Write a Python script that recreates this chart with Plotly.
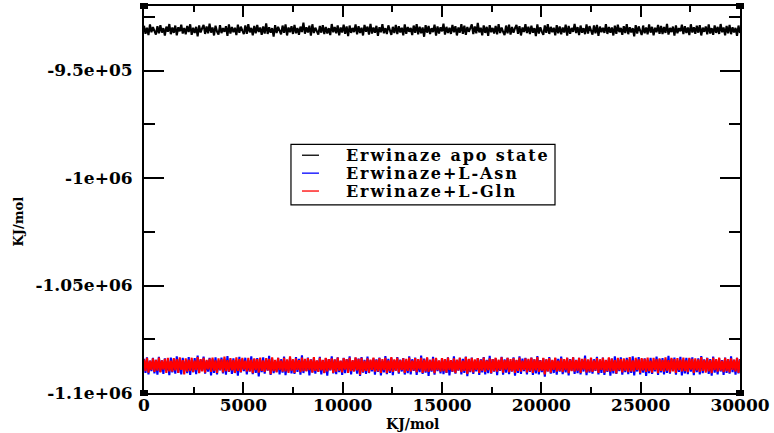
import plotly.graph_objects as go

time_ps = list(range(0, 30001, 75))

apo_state = [
-929200, -932900, -930100, -933500, -928600, -932200, -929800, -931900, -933300, -929400,
-932700, -928900, -932400, -930300, -933800, -929600, -932000, -928400, -933100, -930000,
-932500, -929100, -933600, -929900, -931800, -928700, -932800, -930200, -933200, -929300,
-932100, -928500, -933400, -930100, -932600, -929700, -934100, -929000, -932300, -930400,
-928800, -933000, -929500, -932700, -928200, -932400, -930000, -933700, -929200, -931900,
-933300, -928900, -932600, -930300, -932000, -929400, -933900, -928600, -932800, -929800,
-932200, -930100, -933500, -928700, -932500, -929600, -931800, -933100, -929000, -932900,
-928400, -932300, -930200, -933600, -929300, -932700, -928800, -932100, -930000, -933400,
-929500, -932800, -928100, -933000, -929900, -932400, -930300, -934200, -928900, -932600,
-929700, -931900, -933200, -929100, -932500, -928600, -933700, -930000, -932200, -929400,
-933000, -928800, -932700, -930200, -933400, -929600, -932100, -927700, -932900, -929900,
-932300, -929200, -933800, -928500, -932600, -930100, -931800, -933300, -929300, -932400,
-928900, -933100, -929700, -932800, -930300, -933500, -928400, -932200, -929800, -932700,
-929000, -933600, -930000, -932300, -928700, -932900, -929500, -934000, -929100, -932500,
-930200, -932100, -928600, -933200, -929400, -932600, -930100, -933700, -928800, -932000,
-929600, -933300, -928300, -932800, -930000, -932400, -929200, -933900, -929900, -932200,
-928500, -932700, -930300, -933000, -929000, -931900, -933400, -929700, -932600, -928800,
-933100, -929400, -932300, -930100, -933600, -928600, -932900, -929800, -932000, -930200,
-933500, -929100, -932500, -928400, -933200, -929600, -932700, -930000, -934300, -928900,
-932400, -929300, -933000, -930300, -932100, -928700, -933800, -929500, -932800, -929900,
-931800, -928200, -933300, -929700, -932600, -930100, -933000, -928800, -932200, -929400,
-933700, -930000, -932400, -928500, -932900, -929200, -933400, -929800, -932000, -930300,
-928600, -933100, -929500, -932700, -927900, -932300, -930100, -933600, -929000, -932500,
-929700, -933900, -928900, -932200, -930200, -932800, -929300, -933200, -928400, -932600,
-930000, -932000, -933500, -929100, -932700, -928700, -933300, -929800, -932400, -930300,
-928800, -932900, -929400, -933700, -930000, -932100, -928500, -932600, -929600, -933100,
-929200, -932400, -930300, -934000, -928600, -932800, -929900, -931900, -933400, -929000,
-932500, -928400, -933000, -929700, -932200, -930100, -933600, -928900, -932700, -929500,
-933200, -930000, -932300, -928700, -933800, -929300, -932900, -930200, -932000, -928300,
-932600, -929800, -933500, -929100, -932400, -930300, -933100, -928600, -932800, -929400,
-931900, -933300, -929000, -932700, -928800, -933900, -929600, -932200, -930100, -932500,
-928500, -933000, -929800, -932400, -930000, -933700, -929200, -932900, -928700, -932100,
-930200, -933400, -929400, -932600, -928400, -933100, -929900, -932300, -930300, -934100,
-928900, -932800, -929500, -932000, -933500, -929100, -932700, -930000, -933200, -928600,
-932400, -929700, -933600, -930100, -932200, -928800, -932900, -929300, -933000, -929800,
-932500, -928300, -933300, -930200, -932100, -929600, -933800, -929000, -932700, -930300,
-931800, -928700, -933100, -929400, -932600, -930000, -933500, -928500, -932300, -929900,
-932900, -929200, -932400, -928900, -933700, -930100, -932000, -929500, -933200, -928600,
-932800, -930300, -933400, -929000, -932500, -929700, -933000, -928400, -932200, -930000,
-933600, -929300, -932700, -928800, -933100, -929900, -932300, -930200, -933900, -929100,
-932600]

asn_complex = [
-1084100, -1090700, -1083400, -1091300, -1085000, -1089800, -1083700, -1090900, -1084600, -1091500,
-1083200, -1090200, -1084800, -1091100, -1083900, -1089600, -1085100, -1091700, -1083500, -1090400,
-1084400, -1091000, -1082900, -1090600, -1084200, -1091400, -1083600, -1089900, -1085200, -1090800,
-1083300, -1091600, -1084700, -1090300, -1083800, -1091200, -1082600, -1090500, -1084500, -1089700,
-1083100, -1091000, -1085000, -1090100, -1083700, -1091800, -1084300, -1090600, -1083400, -1091300,
-1084900, -1089500, -1083500, -1090900, -1084100, -1091500, -1082800, -1090200, -1084600, -1091100,
-1083900, -1090700, -1085100, -1091900, -1083200, -1090400, -1084400, -1089800, -1083600, -1091400,
-1084800, -1090000, -1083000, -1091200, -1084200, -1090600, -1083800, -1092300, -1084700, -1090300,
-1083400, -1091000, -1084500, -1089600, -1082700, -1091600, -1084000, -1090800, -1085200, -1090100,
-1083600, -1091300, -1084300, -1090500, -1083100, -1091700, -1084900, -1089900, -1083700, -1090900,
-1084600, -1091100, -1083300, -1090200, -1084100, -1091500, -1082500, -1090700, -1084800, -1089700,
-1083500, -1091800, -1084400, -1090400, -1083900, -1091000, -1085000, -1090000, -1083200, -1091300,
-1084700, -1090600, -1083800, -1091900, -1084200, -1089500, -1083000, -1090900, -1084500, -1091200,
-1083400, -1090300, -1085100, -1091600, -1083700, -1090800, -1084300, -1090100, -1082900, -1091400,
-1084900, -1089800, -1083600, -1091000, -1084000, -1092100, -1083300, -1090500, -1084600, -1091100,
-1083100, -1090700, -1084800, -1089900, -1083900, -1091500, -1084400, -1090200, -1083500, -1091800,
-1085000, -1090400, -1082800, -1091200, -1084100, -1090600, -1083700, -1091700, -1084700, -1089600,
-1083300, -1091000, -1084500, -1090000, -1083800, -1091400, -1085200, -1090800, -1083000, -1091300,
-1084300, -1089700, -1083500, -1091600, -1084900, -1090300, -1082600, -1091100, -1084000, -1090500,
-1083600, -1092000, -1084600, -1090100, -1083200, -1091500, -1084200, -1089800, -1085100, -1090900,
-1083900, -1091200, -1084400, -1090600, -1083400, -1091800, -1084800, -1090200, -1082900, -1091000,
-1084700, -1089600, -1083700, -1091400, -1084100, -1090700, -1083100, -1092200, -1084500, -1090300,
-1083500, -1091100, -1085000, -1089900, -1083800, -1091600, -1084300, -1090400, -1083300, -1091300,
-1084600, -1090800, -1082700, -1091000, -1084200, -1090100, -1083900, -1091700, -1084900, -1089700,
-1083200, -1091500, -1084400, -1090500, -1083600, -1091200, -1085100, -1090000, -1083400, -1091900,
-1084800, -1090600, -1083000, -1091100, -1084000, -1089800, -1083700, -1091400, -1084600, -1090200,
-1083500, -1091600, -1084300, -1090900, -1082800, -1091300, -1084700, -1090300, -1083900, -1092400,
-1084500, -1089900, -1083300, -1091000, -1085000, -1090700, -1083800, -1091500, -1084100, -1090100,
-1083100, -1091200, -1084900, -1090400, -1083600, -1091800, -1084200, -1089600, -1083400, -1091100,
-1084600, -1090800, -1083700, -1091400, -1084400, -1090000, -1082600, -1091700, -1084800, -1090500,
-1083900, -1091000, -1084300, -1089700, -1083200, -1091300, -1085200, -1090600, -1083500, -1091600,
-1084700, -1090200, -1083800, -1091900, -1084000, -1090900, -1083000, -1091100, -1084500, -1089800,
-1083400, -1091500, -1084900, -1090300, -1083700, -1091200, -1084200, -1090700, -1082900, -1091800,
-1084800, -1090000, -1083300, -1091400, -1084400, -1090500, -1083900, -1092000, -1084600, -1090800,
-1083600, -1091100, -1085100, -1089900, -1083100, -1091600, -1084300, -1090400, -1083800, -1091300,
-1084500, -1090600, -1082700, -1091000, -1084100, -1089700, -1083500, -1091500, -1084900, -1090200,
-1083200, -1091800, -1084600, -1090900, -1083700, -1091200, -1084000, -1090100, -1083400, -1091700,
-1084800, -1090300, -1083900, -1091400, -1082800, -1090800, -1084400, -1089600, -1083600, -1091100,
-1084200, -1091900, -1083100, -1090500, -1085000, -1091300, -1083800, -1090000, -1084700, -1091600,
-1083500, -1090700, -1084300, -1091000, -1083000, -1090300, -1084600, -1091500, -1083700, -1090900,
-1084200]

gln_complex = [
-1084400, -1089800, -1083700, -1090500, -1085000, -1089300, -1083900, -1090200, -1084600, -1089600,
-1083500, -1090400, -1084800, -1089100, -1084100, -1090700, -1083600, -1089900, -1084900, -1090100,
-1083800, -1089500, -1084300, -1090600, -1083400, -1089200, -1084700, -1091400, -1083900, -1090000,
-1084500, -1089700, -1083600, -1090300, -1084900, -1089400, -1083300, -1090800, -1084200, -1089900,
-1083700, -1090500, -1084600, -1089000, -1084000, -1090200, -1083500, -1089600, -1084800, -1090700,
-1083900, -1089300, -1084400, -1090400, -1083100, -1089800, -1084700, -1090100, -1083800, -1089500,
-1084600, -1090600, -1083400, -1089700, -1084200, -1090300, -1083700, -1089100, -1085000, -1090000,
-1083600, -1089900, -1084500, -1090800, -1083900, -1089400, -1084300, -1090500, -1083500, -1089700,
-1084800, -1090200, -1083800, -1089500, -1084100, -1091200, -1083400, -1089800, -1084600, -1090400,
-1083700, -1089300, -1084900, -1090100, -1083600, -1089900, -1084400, -1090600, -1082900, -1089600,
-1084300, -1090700, -1083900, -1089200, -1084700, -1090300, -1083500, -1089800, -1084100, -1090000,
-1083800, -1089400, -1084500, -1090500, -1083300, -1089700, -1084800, -1090200, -1083700, -1089500,
-1084600, -1090800, -1083600, -1089900, -1084200, -1089300, -1083900, -1090600, -1084400, -1090100,
-1083500, -1089600, -1085000, -1090400, -1083800, -1089100, -1084300, -1090700, -1083600, -1089800,
-1084700, -1090000, -1083400, -1089500, -1084100, -1091500, -1083700, -1090300, -1084900, -1089700,
-1083900, -1090500, -1084500, -1089200, -1083500, -1090100, -1084600, -1089900, -1083800, -1090600,
-1084200, -1089400, -1083700, -1090800, -1084800, -1089800, -1083300, -1090200, -1084400, -1089600,
-1083600, -1090400, -1084700, -1089300, -1083900, -1090700, -1084100, -1089700, -1083500, -1090000,
-1084900, -1089500, -1083800, -1090300, -1084300, -1089100, -1083600, -1090600, -1084500, -1089900,
-1083400, -1090200, -1084600, -1089600, -1084000, -1090800, -1083700, -1089400, -1084800, -1090100,
-1083800, -1089800, -1084200, -1090500, -1083500, -1089300, -1084700, -1090000, -1083900, -1090700,
-1084500, -1089500, -1083600, -1090300, -1084900, -1089700, -1083300, -1091100, -1084100, -1089900,
-1083700, -1090400, -1084400, -1089200, -1083800, -1090600, -1084600, -1089600, -1083500, -1090200,
-1084800, -1089400, -1083900, -1090800, -1084200, -1089800, -1083600, -1090100, -1084500, -1089500,
-1083400, -1090500, -1084700, -1089100, -1083700, -1090300, -1084300, -1089900, -1083800, -1090600,
-1084600, -1089700, -1083500, -1090000, -1085000, -1089300, -1083900, -1090400, -1084100, -1089800,
-1083600, -1090700, -1084400, -1089500, -1083300, -1090200, -1084800, -1089600, -1083700, -1091300,
-1084300, -1089900, -1083800, -1090500, -1084600, -1089200, -1083500, -1090100, -1084900, -1089700,
-1083900, -1090300, -1084200, -1089400, -1083600, -1090800, -1084500, -1089800, -1083400, -1090000,
-1084700, -1089600, -1083700, -1090600, -1084100, -1089100, -1083900, -1090400, -1084400, -1089900,
-1083500, -1090200, -1084800, -1089500, -1083800, -1090700, -1084300, -1089300, -1083600, -1090500,
-1084600, -1089800, -1083400, -1090100, -1084000, -1089700, -1084700, -1090900, -1083700, -1089400,
-1084200, -1090400, -1083900, -1089600, -1084500, -1090300, -1083300, -1089900, -1084800, -1090000,
-1083600, -1089200, -1084400, -1090600, -1083800, -1089500, -1084100, -1090200, -1083500, -1089800,
-1084900, -1090500, -1083700, -1089300, -1084300, -1090800, -1083900, -1089700, -1084600, -1090100,
-1083400, -1089600, -1084700, -1090400, -1083600, -1089900, -1084200, -1090700, -1083800, -1089400,
-1084500, -1090000, -1083500, -1089800, -1084800, -1090300, -1083700, -1089100, -1084100, -1090600,
-1083900, -1089500, -1084400, -1090200, -1083300, -1089700, -1084600, -1090500, -1083800, -1089900,
-1084700, -1090800, -1083600, -1089400, -1084200, -1090100, -1083500, -1089600, -1084900, -1090300,
-1083700, -1089800, -1084300, -1090400, -1083900, -1089200, -1084500, -1090000, -1083600, -1090600,
-1084400]

series_names = ["Erwinaze apo state", "Erwinaze+L-Asn", "Erwinaze+L-Gln"]
series_colors = ["#000000", "#0000ff", "#ff0000"]

y_tick_vals = [-1100000, -1050000, -1000000, -950000]
y_tick_text = ["-1.1e+06", "-1.05e+06", "-1e+06", "-9.5e+05"]
y_minor_vals = [-1075000, -1025000, -975000, -925000]
x_tick_vals = [0, 5000, 10000, 15000, 20000, 25000, 30000]

FONT = "DejaVu Serif"

fig = go.Figure()
for name, vals, col in zip(series_names, [apo_state, asn_complex, gln_complex], series_colors):
    fig.add_trace(go.Scatter(x=time_ps, y=vals, mode="lines", name=name,
                             line=dict(color=col, width=2.1), showlegend=False))

fig.update_layout(
    width=774, height=433,
    margin=dict(l=144, r=34, t=4, b=40),
    paper_bgcolor="white", plot_bgcolor="white",
    font=dict(family=FONT, color="black"),
    showlegend=False,
)

fig.update_xaxes(
    range=[0, 30000], tickvals=x_tick_vals, tickformat="d", ticks="inside", ticklen=11, tickwidth=2,
    tickcolor="black", showline=True, linecolor="black", linewidth=2, mirror="ticks",
    showgrid=False, zeroline=False, ticklabelstandoff=-4,
    tickfont=dict(family=FONT, size=17, color="black", weight="bold"),
    minor=dict(dtick=2500, ticks="inside", ticklen=6, tickwidth=2, tickcolor="black", showgrid=False),
)
fig.update_yaxes(
    range=[-1100000, -920000], tickvals=y_tick_vals, ticktext=y_tick_text,
    ticks="inside", ticklen=20, tickwidth=2, tickcolor="black",
    showline=True, linecolor="black", linewidth=2, mirror="ticks",
    showgrid=False, zeroline=False, ticklabelstandoff=6,
    tickfont=dict(family=FONT, size=17, color="black", weight="bold"),
    minor=dict(tickvals=y_minor_vals, ticks="inside", ticklen=11, tickwidth=2, tickcolor="black", showgrid=False),
)

# axis titles
fig.add_annotation(text="KJ/mol", xref="paper", yref="paper", x=0.45, y=-0.0797, yanchor="middle",
                   showarrow=False, font=dict(family=FONT, size=14, color="black", weight="bold"))
fig.add_annotation(text="KJ/mol", xref="paper", yref="paper", x=-0.2265, y=0.442,
                   textangle=-90, showarrow=False,
                   font=dict(family=FONT, size=13, color="black", weight="bold"))

# legend box (drawn to match the original's compact legend)
fig.add_shape(type="rect", xref="paper", yref="paper", x0=0.2466, x1=0.6896, y0=0.4859, y1=0.6427,
              line=dict(color="black", width=1.2), fillcolor="white", layer="above")
legend_rows_y = [0.6144, 0.5681, 0.5219]
for name, col, ry in zip(series_names, series_colors, legend_rows_y):
    fig.add_shape(type="line", xref="paper", yref="paper", x0=0.2651, x1=0.2936, y0=ry, y1=ry,
                  line=dict(color=col, width=1.3), layer="above")
    fig.add_annotation(text='<span style="letter-spacing:1.9px">' + name + '</span>',
                       xref="paper", yref="paper", x=0.3356, y=ry,
                       xanchor="left", yanchor="middle", showarrow=False,
                       font=dict(family=FONT, size=16, color="black", weight="bold"))

# corner markers
for cx, cy in [(0, 0), (1, 0), (0, 1), (1, 1)]:
    fig.add_shape(type="rect", xref="paper", yref="paper", xsizemode="pixel", ysizemode="pixel",
                  xanchor=cx, yanchor=cy, x0=-4, x1=4, y0=-3, y1=3,
                  fillcolor="black", line=dict(width=0))

fig.write_html("out.html", config={"displayModeBar": False},
               post_script="document.body.style.margin='0px';document.body.style.padding='0px';")
